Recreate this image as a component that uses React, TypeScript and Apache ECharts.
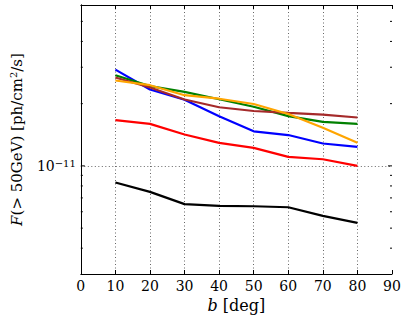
import React, { useEffect, useRef } from "react";
import * as echarts from "echarts";

const B_DEG = [10, 20, 30, 40, 50, 60, 70, 80];
const BLACK = [8.31e-12, 7.49e-12, 6.53e-12, 6.41e-12, 6.38e-12, 6.31e-12, 5.73e-12, 5.3e-12];
const RED = [1.663e-11, 1.596e-11, 1.419e-11, 1.292e-11, 1.222e-11, 1.105e-11, 1.077e-11, 1.0e-11];
const BLUE = [2.92e-11, 2.34e-11, 2.09e-11, 1.74e-11, 1.47e-11, 1.41e-11, 1.283e-11, 1.236e-11];
const GREEN = [2.746e-11, 2.43e-11, 2.28e-11, 2.1e-11, 1.933e-11, 1.74e-11, 1.632e-11, 1.596e-11];
const BROWN = [2.676e-11, 2.394e-11, 2.094e-11, 1.922e-11, 1.843e-11, 1.805e-11, 1.768e-11, 1.714e-11];
const ORANGE = [2.588e-11, 2.456e-11, 2.197e-11, 2.113e-11, 1.992e-11, 1.782e-11, 1.53e-11, 1.295e-11];

const X_MIN = 0;
const X_MAX = 90;
const Y_MIN = 3e-12;
const Y_MAX = 6e-11;
const Y_MINOR_TICKS = [4e-12, 5e-12, 6e-12, 7e-12, 8e-12, 9e-12, 2e-11, 3e-11, 4e-11, 5e-11];
const Y_MAJOR_TICKS = [1e-11];

const FONT = "'DejaVu Serif', 'Liberation Serif', serif";

export default function App() {
  const ref = useRef<HTMLDivElement>(null);
  useEffect(() => {
    document.body.style.margin = "0";
    const chart = echarts.init(ref.current!, null, { renderer: "svg" });
    const mk = (data: number[], color: string) => ({
      type: "line",
      data: B_DEG.map((x, i) => [x, data[i]]),
      showSymbol: false,
      symbol: "none",
      lineStyle: { color, width: 2.2 },
      itemStyle: { color },
      z: 3,
    });
    const tickData = [
      ...Y_MINOR_TICKS.map((v) => [X_MIN, v, 0]),
      ...Y_MAJOR_TICKS.map((v) => [X_MIN, v, 1]),
    ];
    chart.setOption({
      animation: false,
      textStyle: { fontFamily: FONT },
      grid: { left: 77, right: 15, top: 5, bottom: 52, containLabel: false },
      xAxis: [
        {
          type: "value",
          min: X_MIN,
          max: X_MAX,
          interval: 10,
          name: "{i|b} [deg]",
          nameLocation: "middle",
          nameGap: 18,
          nameTextStyle: {
            fontFamily: FONT,
            fontSize: 16,
            color: "#000",
            rich: { i: { fontFamily: FONT, fontStyle: "italic", fontSize: 16, color: "#000" } },
          },
          axisLine: { show: true, lineStyle: { color: "#000", width: 1 } },
          axisTick: { show: true, inside: true, length: 4, lineStyle: { color: "#000" } },
          axisLabel: { color: "#000", fontSize: 14, fontFamily: FONT, margin: 5 },
          splitLine: {
            show: true,
            showMinLine: false,
            showMaxLine: false,
            lineStyle: { color: "#666", width: 1, type: [1, 2.5] },
          },
        },
        {
          type: "value",
          position: "top",
          min: X_MIN,
          max: X_MAX,
          interval: 10,
          axisLine: { show: true, lineStyle: { color: "#000", width: 1 } },
          axisTick: { show: true, inside: true, length: 4, lineStyle: { color: "#000" } },
          axisLabel: { show: false },
          splitLine: { show: false },
        },
      ],
      yAxis: [
        {
          type: "log",
          logBase: 10,
          min: Y_MIN,
          max: Y_MAX,
          name: "{i|F}(> 50GeV) [ph/cm{sup|2}/s]",
          nameLocation: "middle",
          nameGap: 50,
          nameTextStyle: {
            fontFamily: FONT,
            fontSize: 15,
            color: "#000",
            lineHeight: 18,
            rich: {
              i: { fontFamily: FONT, fontStyle: "italic", fontSize: 15, color: "#000", lineHeight: 18 },
              sup: { fontFamily: FONT, fontSize: 10, color: "#000", verticalAlign: "top", lineHeight: 12 },
            },
          },
          axisLine: { show: true, lineStyle: { color: "#000", width: 1 } },
          axisTick: { show: false },
          axisLabel: {
            color: "#000",
            fontSize: 14,
            fontFamily: FONT,
            margin: 5,
            showMinLabel: false,
            showMaxLabel: false,
            formatter: (v: number) => (Math.abs(Math.log10(v) + 11) < 1e-6 ? "10{sup|−11}" : ""),
            rich: {
              sup: { fontFamily: FONT, fontSize: 10, color: "#000", verticalAlign: "top", lineHeight: 12, padding: [0, 0, 8, 0] },
            },
          },
          splitLine: {
            show: true,
            showMinLine: false,
            showMaxLine: false,
            lineStyle: { color: "#666", width: 1, type: [1, 2.5] },
          },
        },
        {
          type: "log",
          logBase: 10,
          position: "right",
          min: Y_MIN,
          max: Y_MAX,
          axisLine: { show: true, lineStyle: { color: "#000", width: 1 } },
          axisTick: { show: false },
          axisLabel: { show: false },
          splitLine: { show: false },
        },
      ],
      series: [
        {
          type: "custom",
          xAxisIndex: 0,
          yAxisIndex: 0,
          silent: true,
          clip: false,
          z: 1,
          data: tickData,
          renderItem: (_params: any, api: any) => {
            const v = api.value(1);
            const major = api.value(2) === 1;
            const l = api.coord([X_MIN, v]);
            const r = api.coord([X_MAX, v]);
            const len = major ? 4 : 2;
            return {
              type: "group",
              children: [
                { type: "line", shape: { x1: l[0], y1: l[1], x2: l[0] + len, y2: l[1] }, style: { stroke: "#000", lineWidth: 1 } },
                { type: "line", shape: { x1: r[0] - len, y1: r[1], x2: r[0], y2: r[1] }, style: { stroke: "#000", lineWidth: 1 } },
              ],
            };
          },
        },
        mk(BLACK, "#000000"),
        mk(RED, "#ff0000"),
        mk(BLUE, "#0000ff"),
        mk(GREEN, "#008000"),
        mk(BROWN, "#a52a2a"),
        mk(ORANGE, "#ffa500"),
      ],
    });
    return () => chart.dispose();
  }, []);
  return <div ref={ref} style={{ width: 407, height: 326 }} />;
}
